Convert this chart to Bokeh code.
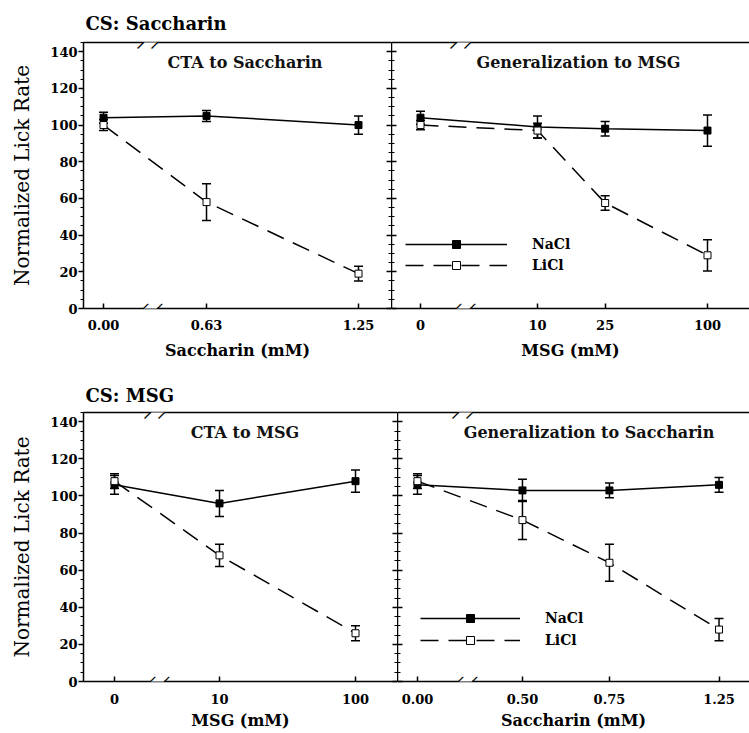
import math
from bokeh.plotting import figure
from bokeh.models import (ColumnDataSource, Range1d, LinearAxis, FixedTicker,
                          SingleIntervalTicker, Label, Legend, LegendItem,
                          Whisker, TeeHead)
from bokeh.layouts import column, row
from bokeh.embed import file_html
from bokeh.resources import INLINE

# ---------------- data ----------------
row_titles = ["CS: Saccharin", "CS:  MSG"]
panel_titles = ["CTA to Saccharin", "Generalization to MSG",
                "CTA to MSG", "Generalization to Saccharin"]
y_label = "Normalized Lick Rate"
series_names = ["NaCl", "LiCl"]

tl_conc = [0.0, 0.63, 1.25]
tl_ticks = ["0.00", "0.63", "1.25"]
tl_nacl = [104, 105, 100]
tl_nacl_sem = [3, 3, 5]
tl_licl = [100, 58, 19]
tl_licl_sem = [3, 10, 4]

tr_conc = [0, 10, 25, 100]
tr_ticks = ["0", "10", "25", "100"]
tr_nacl = [104, 99, 98, 97]
tr_nacl_sem = [3.5, 6, 4, 8.5]
tr_licl = [100, 97, 57.5, 29]
tr_licl_sem = [2.5, 4, 4, 8.5]

bl_conc = [0, 10, 100]
bl_ticks = ["0", "10", "100"]
bl_nacl = [106, 96, 108]
bl_nacl_sem = [5, 7, 6]
bl_licl = [108, 68, 26]
bl_licl_sem = [4, 6, 4]

br_conc = [0.0, 0.50, 0.75, 1.25]
br_ticks = ["0.00", "0.50", "0.75", "1.25"]
br_nacl = [106, 103, 103, 106]
br_nacl_sem = [5, 6, 4, 4]
br_licl = [108, 87, 64, 28]
br_licl_sem = [4, 10.5, 10, 6]

FONT = "DejaVu Serif"
Y_END = 145


def positions(conc, zero_pos):
    return [round(math.log10(c), 6) if c > 0 else zero_pos for c in conc]


def hide_labels(ax):
    ax.major_label_standoff = 0
    ax.major_label_text_font_size = "0px"
    ax.major_label_text_color = None
    ax.major_label_text_alpha = 0


def add_break(p, bx, yy):
    # white gap in the axis line, then two slanted strokes
    p.add_layout(Label(x=bx, y=yy, text="\u2003", text_align="center",
                       text_baseline="middle", text_font_size="13px",
                       text_color="white", background_fill_color="white"))
    for off in (-7, 7):
        p.add_layout(Label(x=bx, y=yy, x_offset=off, text="|",
                           angle=-math.pi / 4, text_align="center",
                           text_baseline="middle", text_font="DejaVu Sans",
                           text_font_size="15px", text_color="black"))


def make_panel(conc, ticks, nacl, nacl_sem, licl, licl_sem, xlabel,
               x0, x1, zero_pos, break_pos, width, height,
               b_left, b_top, b_bottom, is_left, row_title, ptitle, ptitle_x,
               leg_loc, leg_spacing, leg_gw, tick_standoff, label_standoff,
               title_standoff):
    p = figure(width=width, height=height, x_range=Range1d(x0, x1),
               y_range=Range1d(0, Y_END), output_backend="svg",
               toolbar_location=None, x_axis_type=None, y_axis_type=None,
               min_border=0, min_border_left=b_left, min_border_right=0,
               min_border_top=b_top, min_border_bottom=b_bottom,
               outline_line_color=None, background_fill_color="white",
               border_fill_color="white")
    xs = positions(conc, zero_pos)

    # bottom axis
    xa = LinearAxis(ticker=FixedTicker(ticks=xs),
                    major_label_overrides={x: t for x, t in zip(xs, ticks)},
                    axis_label=xlabel)
    xa.axis_line_width = 1.5
    xa.major_tick_line_width = 1.5
    xa.major_tick_in = 5
    xa.major_tick_out = 0
    xa.minor_tick_line_color = None
    xa.major_label_standoff = tick_standoff
    xa.major_label_text_font = FONT
    xa.major_label_text_font_style = "bold"
    xa.major_label_text_font_size = "13px"
    xa.major_label_text_color = "black"
    xa.axis_label_standoff = label_standoff
    xa.axis_label_text_font = FONT
    xa.axis_label_text_font_style = "bold"
    xa.axis_label_text_font_size = "16px"
    xa.axis_label_text_color = "black"
    p.add_layout(xa, "below")

    # top frame line
    ta = LinearAxis(ticker=FixedTicker(ticks=[]))
    ta.axis_line_width = 1.5
    ta.major_tick_line_color = None
    ta.minor_tick_line_color = None
    ta.major_tick_out = 0
    hide_labels(ta)
    p.add_layout(ta, "above")

    yt = SingleIntervalTicker(interval=20, num_minor_ticks=4)
    if is_left:
        ya = LinearAxis(ticker=yt, axis_label=y_label)
        ya.major_tick_in = 0
        ya.major_tick_out = 5
        ya.minor_tick_in = 0
        ya.minor_tick_out = 3
        ya.major_label_standoff = 1
        ya.major_label_text_font = FONT
        ya.major_label_text_font_style = "bold"
        ya.major_label_text_font_size = "13px"
        ya.major_label_text_color = "black"
        ya.axis_label_standoff = 13
        ya.axis_label_text_font = FONT
        ya.axis_label_text_font_style = "normal"
        ya.axis_label_text_font_size = "20px"
        ya.axis_label_text_color = "black"
        # divider ticks pointing into the left panel
        ra = LinearAxis(ticker=SingleIntervalTicker(interval=20, num_minor_ticks=4))
        ra.axis_line_color = None
        ra.major_tick_in = 5
        ra.major_tick_out = 0
        ra.minor_tick_in = 3
        ra.minor_tick_out = 0
        ra.major_tick_line_width = 1.5
        ra.minor_tick_line_width = 1
        hide_labels(ra)
        p.add_layout(ra, "right")
    else:
        ya = LinearAxis(ticker=yt)
        ya.major_tick_in = 5
        ya.major_tick_out = 0
        ya.minor_tick_in = 3
        ya.minor_tick_out = 0
        hide_labels(ya)
    ya.axis_line_width = 1.5
    ya.major_tick_line_width = 1.5
    ya.minor_tick_line_width = 1
    p.add_layout(ya, "left")

    if row_title:
        p.title.text = row_title
        p.title.text_font = FONT
        p.title.text_font_style = "bold"
        p.title.text_font_size = "18px"
        p.title.text_color = "black"
        p.title.align = "left"
        p.title.offset = 2
        p.title.standoff = title_standoff

    ns = ColumnDataSource(dict(x=xs, y=nacl,
                               up=[v + s for v, s in zip(nacl, nacl_sem)],
                               lo=[v - s for v, s in zip(nacl, nacl_sem)]))
    ls = ColumnDataSource(dict(x=xs, y=licl,
                               up=[v + s for v, s in zip(licl, licl_sem)],
                               lo=[v - s for v, s in zip(licl, licl_sem)]))

    l_line = p.line("x", "y", source=ls, line_color="black", line_width=1.5,
                    line_dash="18 10")
    n_line = p.line("x", "y", source=ns, line_color="black", line_width=1.5)
    for src in (ns, ls):
        w = Whisker(source=src, base="x", upper="up", lower="lo",
                    line_color="black", line_width=1.5,
                    upper_head=TeeHead(size=9, line_color="black", line_width=1.5),
                    lower_head=TeeHead(size=9, line_color="black", line_width=1.5))
        p.add_layout(w)
    n_mk = p.scatter("x", "y", source=ns, marker="square", size=7,
                     fill_color="black", line_color="black", line_width=1)
    l_mk = p.scatter("x", "y", source=ls, marker="square", size=7,
                     fill_color="white", line_color="black", line_width=1)

    p.add_layout(Label(x=ptitle_x, y=134, text=ptitle, text_align="center",
                       text_baseline="middle", text_font=FONT,
                       text_font_style="bold", text_font_size="16px",
                       text_color="#111111"))

    for yy in (0, Y_END):
        add_break(p, break_pos, yy)

    if leg_loc is not None:
        leg = Legend(items=[LegendItem(label=series_names[0], renderers=[n_line, n_mk]),
                            LegendItem(label=series_names[1], renderers=[l_line, l_mk])],
                     location=leg_loc, orientation="vertical",
                     glyph_width=leg_gw, glyph_height=20, label_height=20,
                     label_standoff=25, spacing=leg_spacing, padding=0, margin=0,
                     border_line_color=None, background_fill_alpha=0,
                     label_text_font=FONT, label_text_font_style="bold",
                     label_text_font_size="14px", label_text_color="black")
        p.add_layout(leg)
    return p


p_tl = make_panel(tl_conc, tl_ticks, tl_nacl, tl_nacl_sem, tl_licl, tl_licl_sem,
                  "Saccharin (mM)", -0.4415, 0.1615, -0.4023, -0.3103,
                  391, 372, 83, 42, 64, True, row_titles[0], panel_titles[0],
                  -0.1253, None, 1, 102, 11, 8, 17)
p_tr = make_panel(tr_conc, tr_ticks, tr_nacl, tr_nacl_sem, tr_licl, tr_licl_sem,
                  "MSG (mM)", 0.1412, 2.2471, 0.3118, 0.5647,
                  358, 372, 0, 42, 64, False, None, panel_titles[1],
                  1.2412, (14, 33), 1, 102, 11, 8, 17)
p_bl = make_panel(bl_conc, bl_ticks, bl_nacl, bl_nacl_sem, bl_licl, bl_licl_sem,
                  "MSG (mM)", 0.0, 2.3088, 0.228, 0.544,
                  397, 360, 83, 40, 50, True, row_titles[1], panel_titles[2],
                  1.1875, None, 2, 100, 12, 4, 13)
p_br = make_panel(br_conc, br_ticks, br_nacl, br_nacl_sem, br_licl, br_licl_sem,
                  "Saccharin (mM)", -0.554, 0.1586, -0.5136, -0.4164,
                  352, 360, 0, 40, 50, False, None, panel_titles[3],
                  -0.1663, (23, 31), 2, 100, 12, 4, 13)

layout = column(row(p_tl, p_tr, spacing=0), row(p_bl, p_br, spacing=0), spacing=0)
open("out.html", "w").write(file_html(layout, INLINE))
